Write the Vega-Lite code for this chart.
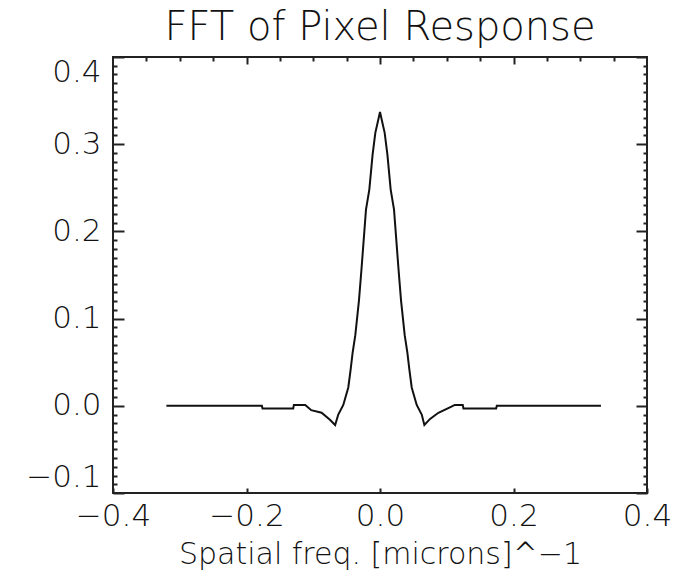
{
  "$schema": "https://vega.github.io/schema/vega-lite/v6.json",
  "width": 534,
  "height": 436,
  "autosize": {"type": "none"},
  "padding": {"left": 113, "top": 57, "right": 28, "bottom": 88},
  "background": "white",
  "config": {
    "view": {"stroke": "#222", "strokeWidth": 2},
    "axis": {
      "domain": false,
      "grid": false,
      "tickColor": "#222",
      "tickWidth": 2,
      "labelFont": "DejaVu Sans",
      "labelFontWeight": 200,
      "labelColor": "#111",
      "labelFontSize": 31,
      "titleFont": "DejaVu Sans",
      "titleFontWeight": 200,
      "titleColor": "#111",
      "titleFontSize": 30
    }
  },
  "title": {
    "text": "FFT of Pixel Response",
    "font": "DejaVu Sans",
    "fontWeight": 200,
    "fontSize": 40,
    "color": "#111",
    "anchor": "middle",
    "offset": 8
  },
  "data": {
    "values": [
      {"freq": -0.320, "amp": 0.000},
      {"freq": -0.177, "amp": 0.000},
      {"freq": -0.176, "amp": -0.003},
      {"freq": -0.130, "amp": -0.003},
      {"freq": -0.129, "amp": 0.001},
      {"freq": -0.112, "amp": 0.001},
      {"freq": -0.103, "amp": -0.005},
      {"freq": -0.0875, "amp": -0.008},
      {"freq": -0.075, "amp": -0.016},
      {"freq": -0.0672, "amp": -0.022},
      {"freq": -0.0625, "amp": -0.010},
      {"freq": -0.055, "amp": 0.001},
      {"freq": -0.0475, "amp": 0.021},
      {"freq": -0.0441, "amp": 0.041},
      {"freq": -0.041, "amp": 0.061},
      {"freq": -0.037, "amp": 0.081},
      {"freq": -0.0315, "amp": 0.121},
      {"freq": -0.0276, "amp": 0.158},
      {"freq": -0.021, "amp": 0.225},
      {"freq": -0.016, "amp": 0.248},
      {"freq": -0.0111, "amp": 0.288},
      {"freq": -0.007, "amp": 0.313},
      {"freq": 0.000, "amp": 0.337},
      {"freq": 0.007, "amp": 0.313},
      {"freq": 0.0111, "amp": 0.288},
      {"freq": 0.016, "amp": 0.248},
      {"freq": 0.021, "amp": 0.225},
      {"freq": 0.0276, "amp": 0.158},
      {"freq": 0.0315, "amp": 0.121},
      {"freq": 0.037, "amp": 0.081},
      {"freq": 0.041, "amp": 0.061},
      {"freq": 0.0441, "amp": 0.041},
      {"freq": 0.0475, "amp": 0.021},
      {"freq": 0.055, "amp": 0.001},
      {"freq": 0.0625, "amp": -0.010},
      {"freq": 0.0665, "amp": -0.022},
      {"freq": 0.075, "amp": -0.015},
      {"freq": 0.0875, "amp": -0.008},
      {"freq": 0.107, "amp": -0.001},
      {"freq": 0.112, "amp": 0.001},
      {"freq": 0.124, "amp": 0.001},
      {"freq": 0.125, "amp": -0.003},
      {"freq": 0.174, "amp": -0.003},
      {"freq": 0.175, "amp": 0.000},
      {"freq": 0.331, "amp": 0.000}
    ]
  },
  "encoding": {
    "x": {
      "field": "freq",
      "type": "quantitative",
      "scale": {"domain": [-0.4, 0.4], "nice": false, "zero": false}
    },
    "y": {
      "field": "amp",
      "type": "quantitative",
      "scale": {"domain": [-0.1, 0.4], "nice": false, "zero": false}
    }
  },
  "layer": [
    {
      "mark": {"type": "line", "color": "#111", "strokeWidth": 2},
      "encoding": {
        "x": {
          "field": "freq",
          "type": "quantitative",
          "axis": {
            "orient": "bottom",
            "values": [-0.4, -0.2, 0, 0.2, 0.4],
            "format": ".1f",
            "tickSize": -5,
            "labelPadding": 13,
            "labelFlush": false,
            "labelOverlap": false,
            "title": "Spatial freq. [microns]^−1",
            "titlePadding": 8
          }
        },
        "y": {
          "field": "amp",
          "type": "quantitative",
          "axis": {
            "orient": "left",
            "values": [-0.1, 0, 0.1, 0.2, 0.3, 0.4],
            "format": ".1f",
            "tickSize": -11,
            "labelPadding": 23,
            "labelFlush": true,
            "labelOverlap": false,
            "title": null
          }
        }
      }
    },
    {
      "mark": {"type": "line", "strokeOpacity": 0},
      "encoding": {
        "x": {
          "field": "freq",
          "type": "quantitative",
          "axis": {
            "orient": "top",
            "values": [-0.2, 0, 0.2],
            "tickSize": -7,
            "labels": false,
            "title": null
          }
        },
        "y": {
          "field": "amp",
          "type": "quantitative",
          "axis": {
            "orient": "right",
            "values": [-0.1, 0, 0.1, 0.2, 0.3, 0.4],
            "tickSize": -11,
            "labels": false,
            "title": null
          }
        }
      }
    },
    {
      "mark": {"type": "line", "strokeOpacity": 0},
      "encoding": {
        "x": {
          "field": "freq",
          "type": "quantitative",
          "axis": {
            "orient": "top",
            "values": [-0.35, -0.3, -0.25, -0.15, -0.1, -0.05, 0.05, 0.1, 0.15, 0.25, 0.3, 0.35],
            "tickSize": -4,
            "labels": false,
            "title": null
          }
        },
        "y": {
          "field": "amp",
          "type": "quantitative",
          "axis": {
            "orient": "left",
            "values": [-0.09, -0.08, -0.07, -0.06, -0.05, -0.04, -0.03, -0.02, -0.01,
                       0.01, 0.02, 0.03, 0.04, 0.05, 0.06, 0.07, 0.08, 0.09,
                       0.11, 0.12, 0.13, 0.14, 0.15, 0.16, 0.17, 0.18, 0.19,
                       0.21, 0.22, 0.23, 0.24, 0.25, 0.26, 0.27, 0.28, 0.29,
                       0.31, 0.32, 0.33, 0.34, 0.35, 0.36, 0.37, 0.38, 0.39],
            "tickSize": -4,
            "labels": false,
            "title": null
          }
        }
      }
    },
    {
      "mark": {"type": "line", "strokeOpacity": 0},
      "encoding": {
        "x": {"field": "freq", "type": "quantitative", "axis": null},
        "y": {
          "field": "amp",
          "type": "quantitative",
          "axis": {
            "orient": "right",
            "values": [-0.09, -0.08, -0.07, -0.06, -0.05, -0.04, -0.03, -0.02, -0.01,
                       0.01, 0.02, 0.03, 0.04, 0.05, 0.06, 0.07, 0.08, 0.09,
                       0.11, 0.12, 0.13, 0.14, 0.15, 0.16, 0.17, 0.18, 0.19,
                       0.21, 0.22, 0.23, 0.24, 0.25, 0.26, 0.27, 0.28, 0.29,
                       0.31, 0.32, 0.33, 0.34, 0.35, 0.36, 0.37, 0.38, 0.39],
            "tickSize": -4,
            "labels": false,
            "title": null
          }
        }
      }
    }
  ],
  "resolve": {"axis": {"x": "independent", "y": "independent"}}
}
